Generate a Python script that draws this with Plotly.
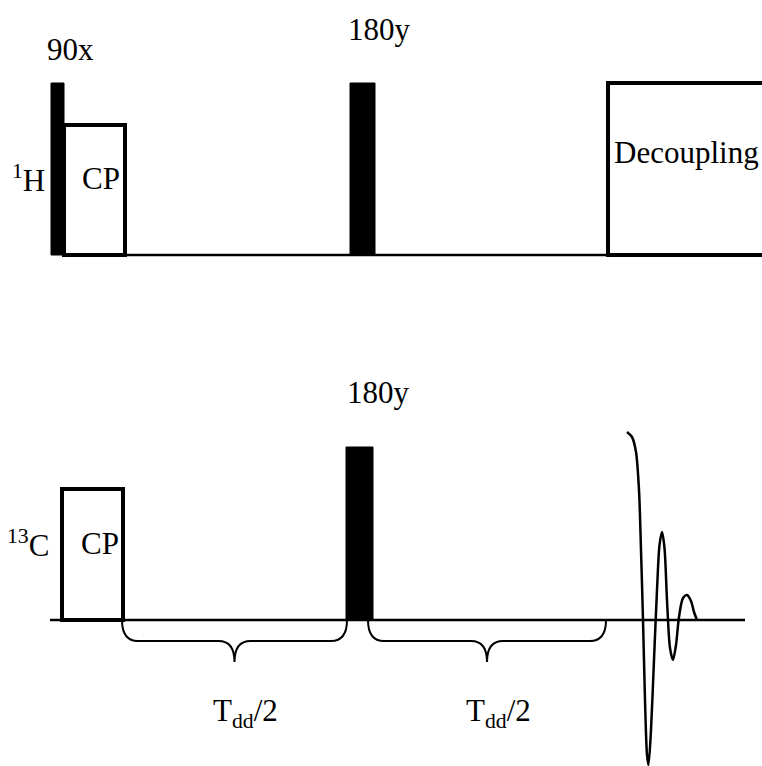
import plotly.graph_objects as go

# Pulse sequence: 1H / 13C cross-polarisation followed by a dipolar-dephasing echo.
# Horizontal axis = time (arbitrary units), vertical axis = drawing height (down is larger).
W, H = 762, 766

# channel baselines
channel_names = ["<sup>1</sup>H", "<sup>13</sup>C"]
channel_base = [255, 620]
baseline_start = [125, 50]
baseline_end = [608, 745]

# hard (filled) pulses: channel index, start, end, top
pulse_channel = [0, 0, 1]
pulse_start = [51, 350, 346]
pulse_end = [64, 375, 373]
pulse_top = [83, 83, 447]
pulse_labels = ["90x", "180y", "180y"]
pulse_label_x = [70, 379, 378]
pulse_label_y = [49, 29, 392]

# open blocks (CP contact, decoupling)
block_channel = [0, 0, 1]
block_start = [64, 608, 62]
block_end = [125, 790, 123]
block_top = [125, 83, 489]
block_labels = ["CP", "Decoupling", "CP"]

# delay braces on the 13C line
brace_start = [122, 368]
brace_end = [347, 606]
brace_depth = [641, 662]   # flat part, tip
brace_labels = ["T<sub>dd</sub>/2", "T<sub>dd</sub>/2"]

# free induction decay (time, height)
fid_t = [627, 632, 636, 639, 641, 643, 645, 647, 648.5, 651, 654, 657, 659.5, 662, 664.5,
         667, 670, 673, 676, 679, 683, 687, 691, 694, 697]
fid_y = [432, 437, 452, 490, 550, 620, 700, 755, 765, 730, 660, 590, 545, 532, 548,
         600, 648, 660, 645, 617, 598, 595, 601, 612, 620]

fig = go.Figure()
shapes = []
annotations = []
font = dict(family="Liberation Serif, Times New Roman, serif", size=31, color="black")

for base, x0, x1 in zip(channel_base, baseline_start, baseline_end):
    shapes.append(dict(type="line", x0=x0, x1=x1, y0=base, y1=base,
                       line=dict(color="black", width=2.5)))

for ch, x0, x1, top in zip(pulse_channel, pulse_start, pulse_end, pulse_top):
    shapes.append(dict(type="rect", x0=x0, x1=x1, y0=top, y1=channel_base[ch],
                       fillcolor="black", line=dict(color="black", width=1)))

for ch, x0, x1, top in zip(block_channel, block_start, block_end, block_top):
    shapes.append(dict(type="rect", x0=x0, x1=x1, y0=top, y1=channel_base[ch],
                       fillcolor="rgba(0,0,0,0)", line=dict(color="black", width=4)))

for x0, x1 in zip(brace_start, brace_end):
    base = channel_base[1]
    flat, tip = brace_depth
    mid = (x0 + x1) / 2
    r = 16
    path = (f"M {x0},{base} Q {x0},{flat} {x0 + r},{flat} L {mid - r},{flat} "
            f"Q {mid},{flat} {mid},{tip} Q {mid},{flat} {mid + r},{flat} "
            f"L {x1 - r},{flat} Q {x1},{flat} {x1},{base}")
    shapes.append(dict(type="path", path=path, line=dict(color="black", width=2)))

fig.add_trace(go.Scatter(x=fid_t, y=fid_y, mode="lines",
                         line=dict(color="black", width=2.5, shape="spline", smoothing=0.8),
                         hoverinfo="skip", showlegend=False))

# text
for txt, x, y in zip(pulse_labels, pulse_label_x, pulse_label_y):
    annotations.append(dict(x=x, y=y, text=txt, showarrow=False, font=font))

annotations.append(dict(x=28, y=178, text=channel_names[0], showarrow=False, font=font))
annotations.append(dict(x=28, y=543, text=channel_names[1], showarrow=False, font=font))

annotations.append(dict(x=101, y=178, text=block_labels[0], showarrow=False, font=font))
annotations.append(dict(x=612, y=152, text=block_labels[1], showarrow=False, font=font,
                        xanchor="left"))
annotations.append(dict(x=100, y=543, text=block_labels[2], showarrow=False, font=font))

for txt, x0, x1 in zip(brace_labels, brace_start, brace_end):
    annotations.append(dict(x=(x0 + x1) / 2 + 11, y=713, text=txt, showarrow=False, font=font))

fig.update_layout(
    width=W, height=H,
    margin=dict(l=0, r=0, t=0, b=0),
    paper_bgcolor="white", plot_bgcolor="white",
    xaxis=dict(range=[0, W], visible=False, fixedrange=True),
    yaxis=dict(range=[H, 0], visible=False, fixedrange=True),
    shapes=shapes, annotations=annotations, showlegend=False,
)

fig.write_html("out.html")
